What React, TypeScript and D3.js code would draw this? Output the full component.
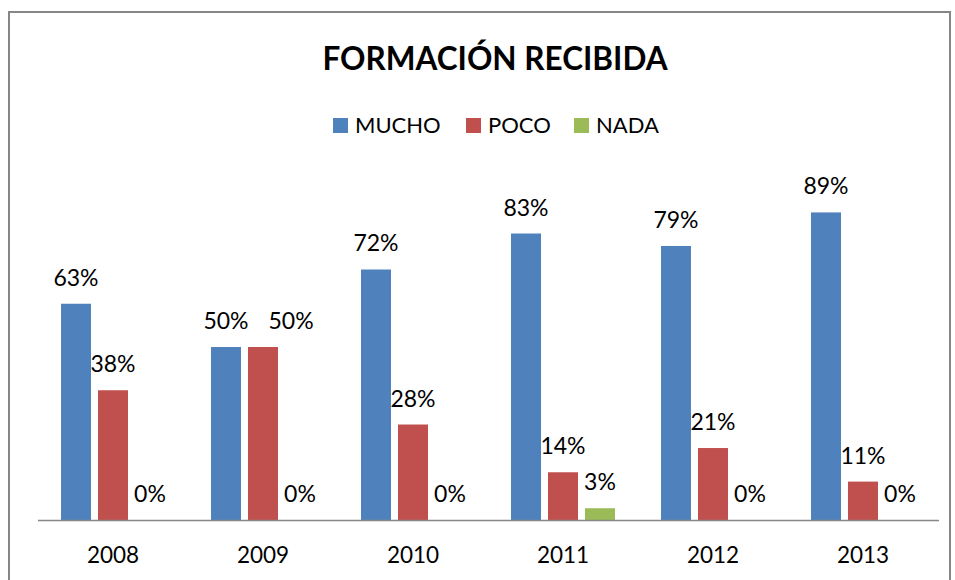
import React from "react";
import * as d3 from "d3";

const years = ["2008", "2009", "2010", "2011", "2012", "2013"];
const seriesNames = ["MUCHO", "POCO", "NADA"];
const mucho = [0.625, 0.5, 0.724, 0.828, 0.792, 0.889];
const poco = [0.375, 0.5, 0.276, 0.138, 0.208, 0.111];
const nada = [0, 0, 0, 0.034, 0, 0];
const colors = ["#4F81BD", "#C0504D", "#9BBB59"];
const title = "FORMACIÓN RECIBIDA";

const W = 955;
const H = 580;
const FONT = "Lato, 'Open Sans', sans-serif";

export default function App() {
  const values = [mucho, poco, nada];
  const x0 = d3.scaleBand<string>().domain(years).range([38, 938]).padding(0);
  const groupW = 104;
  const x1 = d3
    .scaleBand<string>()
    .domain(seriesNames)
    .range([0, groupW])
    .paddingInner(0.189)
    .paddingOuter(0);
  const y = d3.scaleLinear().domain([0, 1]).range([520, 174]);
  const fmt = d3.format(".0%");
  const off = (x0.bandwidth() - groupW) / 2;
  const labelSize = 23;
  const charW = (s: string) =>
    s.split("").reduce((a, c) => a + (c === "%" ? 0.8 : 0.58), 0) * labelSize;

  const legendItems = [
    { name: "MUCHO", x: 333 },
    { name: "POCO", x: 466 },
    { name: "NADA", x: 574 },
  ];

  // bars and labels with simple collision avoidance within each group
  const bars: { key: string; x: number; w: number; v: number; c: string }[] = [];
  const labels: { key: string; x: number; y: number; t: string }[] = [];
  years.forEach((yr, i) => {
    let prev: { l: number; r: number; y: number } | null = null;
    seriesNames.forEach((s, si) => {
      const v = values[si][i];
      const bx = (x0(yr) as number) + off + (x1(s) as number);
      const bw = x1.bandwidth();
      bars.push({ key: s + yr, x: bx, w: bw, v, c: colors[si] });
      const t = fmt(v);
      const tw = charW(t);
      let cx = bx + bw / 2;
      const ly = y(v) - 18;
      if (prev && Math.abs(prev.y - ly) < labelSize && cx - tw / 2 < prev.r + 4) {
        cx = prev.r + 20 + tw / 2;
      }
      labels.push({ key: s + yr, x: cx, y: ly, t });
      prev = { l: cx - tw / 2, r: cx + tw / 2, y: ly };
    });
  });

  return (
    <svg
      width={W}
      height={H}
      style={{ position: "absolute", left: 0, top: 0, background: "#fff" }}
      fontFamily={FONT}
    >
      <rect x={0} y={0} width={W} height={H} fill="#fff" />
      <rect x={9} y={12} width={941} height={H + 20} fill="none" stroke="#868686" strokeWidth={2} />
      <text x={495} y={70} textAnchor="middle" fontSize={31.5} fontWeight={700} fill="#000">
        {title}
      </text>
      {legendItems.map((it, i) => (
        <g key={it.name}>
          <rect x={it.x} y={118} width={15} height={15} fill={colors[i]} />
          <text x={it.x + 22} y={133} fontSize={22} fill="#000">
            {it.name}
          </text>
        </g>
      ))}
      {bars.map((b) =>
        b.v > 0 ? (
          <rect key={b.key} x={b.x} y={y(b.v)} width={b.w} height={y(0) - y(b.v)} fill={b.c} />
        ) : null
      )}
      {labels.map((l) => (
        <text key={l.key} x={l.x} y={l.y} textAnchor="middle" fontSize={labelSize} fill="#000">
          {l.t}
        </text>
      ))}
      <line x1={38} x2={939} y1={520.5} y2={520.5} stroke="#868686" strokeWidth={1.5} />
      {years.map((yr) => (
        <text
          key={yr}
          x={(x0(yr) as number) + x0.bandwidth() / 2}
          y={563}
          textAnchor="middle"
          fontSize={22.5}
          fill="#000"
        >
          {yr}
        </text>
      ))}
    </svg>
  );
}
